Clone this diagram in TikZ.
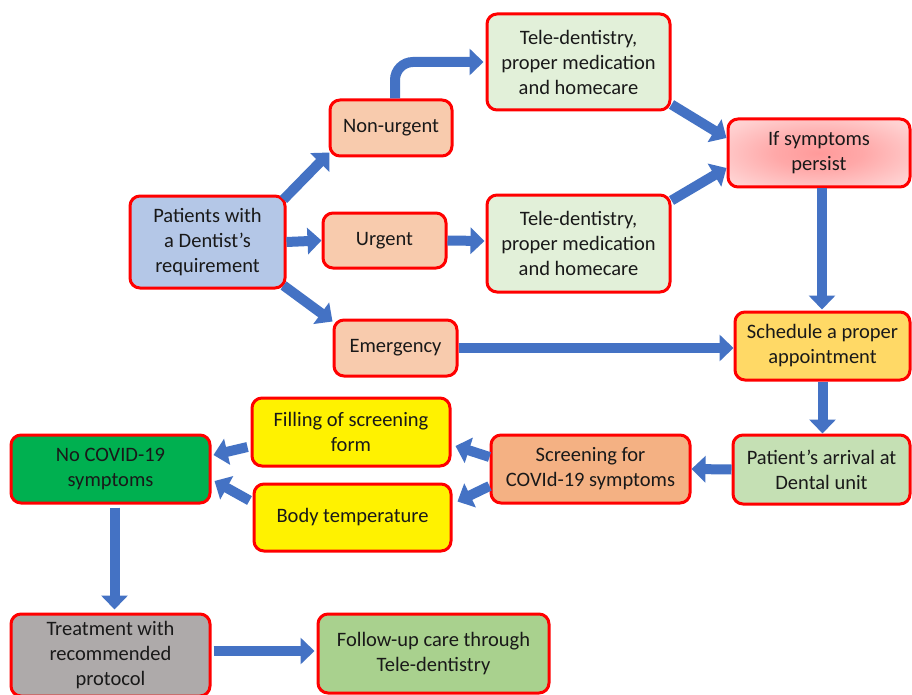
\documentclass[tikz,border=0pt]{standalone}
\usepackage{fontspec}
\setmainfont{Carlito}
\usetikzlibrary{arrows.meta,calc}
\definecolor{arrowblue}{HTML}{4472C4}
\definecolor{patblue}{HTML}{B4C7E7}
\definecolor{peach}{HTML}{F8CBAD}
\definecolor{palegreen}{HTML}{E2F0D9}
\definecolor{gold}{HTML}{FFD966}
\definecolor{arrgreen}{HTML}{C5E0B4}
\definecolor{scrorange}{HTML}{F4B183}
\definecolor{nocovgreen}{HTML}{00B050}
\definecolor{treatgray}{HTML}{AEAAAA}
\definecolor{followgreen}{HTML}{A9D18E}
\definecolor{pinkout}{HTML}{FFE2E2}
\definecolor{pinkin}{HTML}{FF9A9A}
\pgfdeclareradialshading{pinkrad}{\pgfpoint{0bp}{0bp}}{color(0bp)=(pinkin); color(12bp)=(pinkin!80!pinkout); color(30bp)=(pinkin!25!pinkout); color(42bp)=(pinkout); color(100bp)=(pinkout)}
\begin{document}
\begin{tikzpicture}[x=1pt,y=-1pt,
  box/.style={draw=red,line width=3pt,rounded corners=10pt,align=center,
    font=\fontsize{20.5}{25}\selectfont,text=black!90,inner sep=0pt},
  barrow/.style={draw=arrowblue,line width=10pt,line cap=butt,
    -{Triangle[length=14pt,width=26pt]}}]
\useasboundingbox (0,0) rectangle (912,695);
\fill[white] (0,0) rectangle (912,695);
% nodes
\node[box,fill=patblue,minimum width=155pt,minimum height=92pt] (pat) at (207.5,242) {Patients with\\a Dentist’s\\requirement};
\node[box,fill=peach,minimum width=122pt,minimum height=56pt] (nonurg) at (391,128) {Non-urgent};
\node[box,fill=peach,minimum width=123pt,minimum height=55pt] (urg) at (384.5,240.5) {Urgent};
\node[box,fill=peach,minimum width=123pt,minimum height=56pt] (emer) at (395.5,348) {Emergency};
\node[box,fill=palegreen,minimum width=183pt,minimum height=96pt] (tele1) at (578.5,62) {Tele-dentistry,\\proper medication\\and homecare};
\node[box,fill=palegreen,minimum width=183pt,minimum height=97pt] (tele2) at (578.5,243.5) {Tele-dentistry,\\proper medication\\and homecare};
\node[box,shading=pinkrad,minimum width=182pt,minimum height=68pt] (ifs) at (819,153) {If symptoms\\persist};
\node[box,fill=gold,minimum width=175pt,minimum height=68pt] (sched) at (822.5,346) {Schedule a proper\\appointment};
\node[box,fill=arrgreen,minimum width=177pt,minimum height=69pt] (arr) at (821.5,469.5) {Patient’s arrival at\\Dental unit};
\node[box,fill=scrorange,minimum width=199pt,minimum height=68pt] (scr) at (590.5,469) {Screening for\\COVId-19 symptoms};
\node[box,fill=yellow,minimum width=198pt,minimum height=68pt] (fill) at (351,432) {Filling of screening\\form};
\node[box,fill=yellow,minimum width=197pt,minimum height=67pt] (body) at (352.5,517.5) {Body temperature};
\node[box,fill=nocovgreen,minimum width=199pt,minimum height=68pt] (nocov) at (110.5,469) {No COVID-19\\symptoms};
\node[box,fill=treatgray,minimum width=199pt,minimum height=82pt] (treat) at (110.5,655) {Treatment with\\recommended\\protocol};
\node[box,fill=followgreen,minimum width=231pt,minimum height=79pt] (follow) at (433.5,653.5) {Follow-up care through\\Tele-dentistry};
% arrows
\draw[barrow] ($(pat.north east)+(-3,5)$) -- ($(nonurg.south west)+(1,-5)$);
\draw[barrow] (pat.east) -- (urg.west);
\draw[barrow] ($(pat.south east)+(-3,-4)$) -- ($(emer.north west)+(0,3)$);
\draw[barrow,rounded corners=18pt] ($(nonurg.north)+(4,0)$) |- ($(tele1.west)+(-2,0)$);
\draw[barrow] (urg.east) -- ($(tele2.west)+(-1,-2.5)$);
\draw[barrow] ($(tele1.south east)+(0,-7)$) -- ($(ifs.west)+(0,-15)$);
\draw[barrow] ($(tele2.north east)+(0,7)$) -- ($(ifs.west)+(0,15)$);
\draw[barrow] ($(ifs.south)+(3,0)$) -- ($(ifs.south |- sched.north)+(3,-1)$);
\draw[barrow] (emer.east) -- (emer.east -| sched.west);
\draw[barrow] (sched.south) -- (sched.south |- arr.north);
\draw[barrow] (arr.west) -- (scr.east);
\draw[barrow] ($(scr.west)+(0,-12)$) -- ($(fill.east)+(4,14)$);
\draw[barrow] ($(scr.west)+(0,17)$) -- ($(body.east)+(5,-16)$);
\draw[barrow] ($(fill.west)+(-3,15)$) -- ($(nocov.east)+(2,-14)$);
\draw[barrow] ($(body.west)+(-3,-17)$) -- ($(nocov.east)+(3,12)$);
\draw[barrow] ($(nocov.south)+(4,3)$) -- ($(treat.north)+(4,-3)$);
\draw[barrow] ($(treat.east)+(2,-4)$) -- ($(follow.west)+(-2,-2.5)$);
\end{tikzpicture}
\end{document}
